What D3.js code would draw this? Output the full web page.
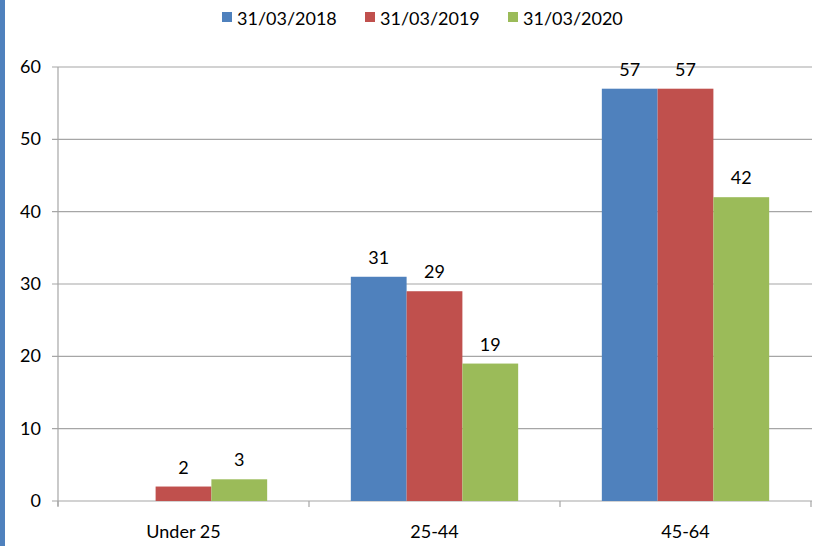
<!DOCTYPE html>
<html lang="en">
<head>
    <meta charset="UTF-8">
    <title>Grouped Bar Chart</title>
    <script src="https://cdn.jsdelivr.net/npm/d3@7"></script>
    <style>
        body { margin: 0; background: #fff; }
        text { font-family: Lato, "Open Sans", sans-serif; fill: #000; }
    </style>
</head>
<body>
    <svg id="main" width="815" height="546"></svg>
    <script>
        // data
        let categories = ['Under 25', '25-44', '45-64'];
        let seriesNames = ['31/03/2018', '31/03/2019', '31/03/2020'];
        let values2018 = [0, 31, 57];
        let values2019 = [2, 29, 57];
        let values2020 = [3, 19, 42];
        let yTicks = [0, 10, 20, 30, 40, 50, 60];
        let colors = ['#4f81bd', '#c0504d', '#9bbb59'];

        let allValues = [values2018, values2019, values2020];
        let svg = d3.select('svg#main');
        let plot = {left: 58, right: 811, top: 67, bottom: 501};
        let fs = '18px';

        // left strip
        svg.append('rect').attr('x', 0).attr('y', 0).attr('width', 5).attr('height', 546)
            .attr('fill', '#4f81bd');

        let xScale = d3.scaleBand().domain(categories).range([plot.left, plot.right]);
        let x1 = d3.scaleBand().domain(seriesNames)
            .range([0, xScale.bandwidth()]).paddingInner(0).paddingOuter(0.75);
        let yScale = d3.scaleLinear().domain([0, 60]).range([plot.bottom, plot.top]);

        // gridlines
        svg.selectAll('line.grid')
            .data(yTicks)
            .enter()
            .append('line')
            .attr('class', 'grid')
            .attr('x1', plot.left - 6).attr('x2', plot.right + 1)
            .attr('y1', d => yScale(d)).attr('y2', d => yScale(d))
            .attr('stroke', '#a6a6a6').attr('stroke-width', 1.2);

        // y axis line
        svg.append('line')
            .attr('x1', plot.left).attr('x2', plot.left)
            .attr('y1', plot.top).attr('y2', plot.bottom + 5)
            .attr('stroke', '#a6a6a6').attr('stroke-width', 1.2);

        // category ticks
        let catTicks = [plot.left].concat(categories.map(c => xScale(c) + xScale.bandwidth()));
        svg.selectAll('line.ctick')
            .data(catTicks)
            .enter()
            .append('line')
            .attr('class', 'ctick')
            .attr('x1', d => d).attr('x2', d => d)
            .attr('y1', plot.bottom).attr('y2', plot.bottom + 6)
            .attr('stroke', '#a6a6a6').attr('stroke-width', 1.2);

        // y labels
        svg.selectAll('text.ylab')
            .data(yTicks)
            .enter()
            .append('text')
            .attr('class', 'ylab')
            .attr('x', 41).attr('y', d => yScale(d) + 6)
            .attr('text-anchor', 'end')
            .style('font-size', fs)
            .text(d => d);

        // x labels
        svg.selectAll('text.xlab')
            .data(categories)
            .enter()
            .append('text')
            .attr('class', 'xlab')
            .attr('x', d => xScale(d) + xScale.bandwidth() / 2)
            .attr('y', 538)
            .attr('text-anchor', 'middle')
            .style('font-size', fs)
            .text(d => d);

        // bars
        let groups = svg.selectAll('g.series')
            .data(allValues)
            .enter()
            .append('g')
            .attr('class', 'series')
            .attr('fill', (d, i) => colors[i]);

        groups.each(function (vals, si) {
            let g = d3.select(this);
            let items = vals.map((v, ci) => ({v: v, c: categories[ci]})).filter(d => d.v > 0);
            g.selectAll('rect')
                .data(items)
                .enter()
                .append('rect')
                .attr('x', d => xScale(d.c) + x1(seriesNames[si]))
                .attr('width', x1.bandwidth())
                .attr('y', d => yScale(d.v))
                .attr('height', d => yScale(0) - yScale(d.v));
            g.selectAll('text')
                .data(items)
                .enter()
                .append('text')
                .attr('x', d => xScale(d.c) + x1(seriesNames[si]) + x1.bandwidth() / 2)
                .attr('y', d => yScale(d.v) - 13)
                .attr('text-anchor', 'middle')
                .style('font-size', fs)
                .style('fill', '#000')
                .text(d => d.v);
        });

        // legend
        let legendX = [222, 365, 508];
        let legend = svg.selectAll('g.legend')
            .data(seriesNames)
            .enter()
            .append('g')
            .attr('class', 'legend')
            .attr('transform', (d, i) => 'translate(' + legendX[i] + ',0)');
        legend.append('rect')
            .attr('x', 0).attr('y', 12).attr('width', 10).attr('height', 10)
            .attr('fill', (d, i) => colors[i]);
        legend.append('text')
            .attr('x', 15).attr('y', 25)
            .style('font-size', fs)
            .text(d => d);
    </script>
</body>
</html>
